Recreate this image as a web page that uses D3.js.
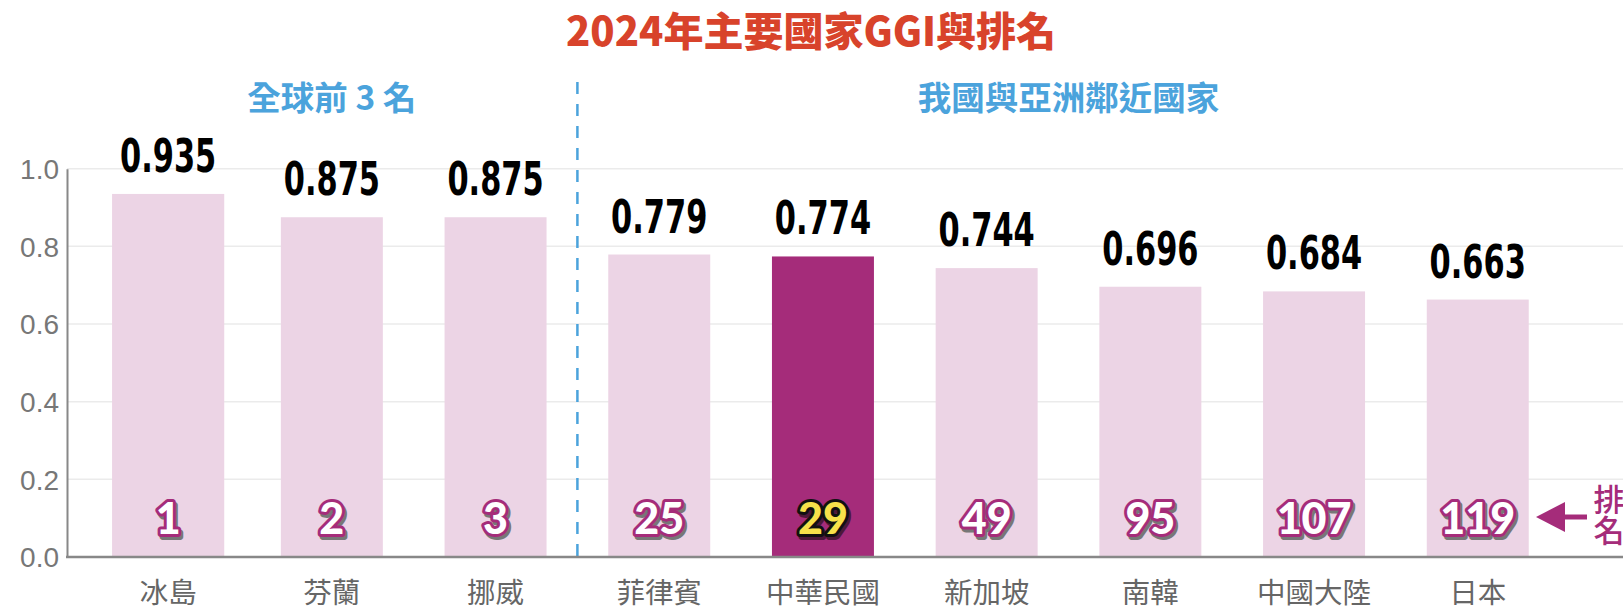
<!DOCTYPE html>
<html>
<head>
<meta charset="utf-8">
<script src="https://cdn.jsdelivr.net/npm/d3@7/dist/d3.min.js"></script>
<style>
  html, body { margin: 0; padding: 0; background: #fff; }
  svg { display: block; }
</style>
</head>
<body>
<svg id="chart" width="1623" height="612"></svg>
<script>
const titleText = "2024年主要國家GGI與排名";
const categories = ["冰島", "芬蘭", "挪威", "菲律賓", "中華民國", "新加坡", "南韓", "中國大陸", "日本"];
const values = [0.935, 0.875, 0.875, 0.779, 0.774, 0.744, 0.696, 0.684, 0.663];
const ranks = [1, 2, 3, 25, 29, 49, 95, 107, 119];
const highlightCategory = "中華民國";
const yTicks = [0, 0.2, 0.4, 0.6, 0.8, 1.0];
const groupLabels = ["全球前 3 名", "我國與亞洲鄰近國家"];
const groupStart = [0, 3];
const groupEnd = [2, 8];
const rankCaption = "排名";

const W = 1623, H = 612;
const cjk = '"Noto Sans CJK TC", "Noto Sans CJK SC", sans-serif';
const svg = d3.select("#chart");

const x = d3.scaleBand().domain(categories).range([86.3, 1559.6]).paddingInner(0.377).paddingOuter(0.1885);
const y = d3.scaleLinear().domain([0, 1]).range([557, 168.7]);
const axisX0 = 67;

const pinkLight = "#ecd4e5", magenta = "#a52c7a", blue = "#4ba3dc", red = "#d8432b";

// gridlines
svg.append("g").selectAll("line").data(yTicks.filter(d => d > 0)).join("line")
  .attr("x1", axisX0).attr("x2", W)
  .attr("y1", d => y(d)).attr("y2", d => y(d))
  .attr("stroke", "#ebebeb").attr("stroke-width", 1.5);

// title
svg.append("text").attr("x", 811).attr("y", 46).attr("text-anchor", "middle")
  .attr("font-family", cjk).attr("font-weight", 900).attr("font-size", 40)
  .attr("fill", red).text(titleText);

// group labels
groupLabels.forEach((g, i) => {
  const cx = (x(categories[groupStart[i]]) + x(categories[groupEnd[i]]) + x.bandwidth()) / 2;
  svg.append("text").attr("x", cx).attr("y", 110).attr("text-anchor", "middle")
    .attr("font-family", cjk).attr("font-weight", 700).attr("font-size", 33.5)
    .attr("fill", blue).text(g);
});

// divider
const divX = (x(categories[groupEnd[0]]) + x.bandwidth() + x(categories[groupStart[1]])) / 2;
svg.append("line").attr("x1", divX).attr("x2", divX).attr("y1", 82).attr("y2", y(0))
  .attr("stroke", blue).attr("stroke-width", 2.5).attr("stroke-dasharray", "12,10");

// bars
svg.append("g").selectAll("rect").data(categories).join("rect")
  .attr("x", (d, i) => x(d) - (i === 0 ? x.bandwidth() * 0.05 : 0))
  .attr("width", (d, i) => x.bandwidth() * (i === 0 ? 1.1 : 1))
  .attr("y", (d, i) => y(values[i]))
  .attr("height", (d, i) => y(0) - y(values[i]))
  .attr("fill", d => d === highlightCategory ? magenta : pinkLight);

// y axis
const yAxis = d3.axisLeft(y).tickValues(yTicks).tickSize(0).tickPadding(8).tickFormat(d3.format(".1f"));
const gy = svg.append("g").attr("transform", `translate(${axisX0},0)`).call(yAxis);
gy.select(".domain").attr("stroke", "#888").attr("stroke-width", 2);
gy.selectAll("text").attr("font-family", '"Liberation Sans", Arial, sans-serif')
  .attr("font-size", 28).attr("fill", "#777").attr("dy", "0.35em");

// x baseline
svg.append("line").attr("x1", axisX0 - 1).attr("x2", W).attr("y1", y(0)).attr("y2", y(0))
  .attr("stroke", "#888").attr("stroke-width", 2.5);

// x labels
svg.append("g").selectAll("text").data(categories).join("text")
  .attr("x", d => x(d) + x.bandwidth() / 2).attr("y", 603)
  .attr("text-anchor", "middle").attr("font-family", cjk).attr("font-size", 28.5)
  .attr("fill", "#666").text(d => d);

// value labels (condensed)
svg.append("g").selectAll("text").data(categories).join("text")
  .attr("transform", (d, i) => `translate(${x(d) + x.bandwidth() / 2},${y(values[i]) - 22}) scale(0.72,1)`)
  .attr("text-anchor", "middle")
  .attr("font-family", '"DejaVu Sans Condensed", "DejaVu Sans", sans-serif')
  .attr("font-weight", 700).attr("font-size", 47).attr("fill", "#000")
  .text((d, i) => d3.format(".3f")(values[i]));

// rank labels (shadow + stroked)
const rankFont = 'Lato, "Open Sans", Roboto, sans-serif';
const rg = svg.append("g");
rg.selectAll("text.shadow").data(categories).join("text").attr("class", "shadow")
  .attr("x", d => x(d) + x.bandwidth() / 2 + 2).attr("y", 537)
  .attr("text-anchor", "middle").attr("font-family", rankFont).attr("font-weight", 900)
  .attr("font-size", 43)
  .attr("fill", d => d === highlightCategory ? "#4d1839" : "#777")
  .attr("stroke", d => d === highlightCategory ? "#4d1839" : "#777")
  .attr("stroke-width", 6)
  .attr("stroke-linejoin", "round").text((d, i) => ranks[i]);
rg.selectAll("text.main").data(categories).join("text").attr("class", "main")
  .attr("x", d => x(d) + x.bandwidth() / 2).attr("y", 534)
  .attr("text-anchor", "middle").attr("font-family", rankFont).attr("font-weight", 900)
  .attr("font-size", 43)
  .attr("fill", d => d === highlightCategory ? "#f7e14a" : "#fff")
  .attr("stroke", d => d === highlightCategory ? "#111" : magenta)
  .attr("stroke-width", 6).attr("stroke-linejoin", "round")
  .attr("paint-order", "stroke").text((d, i) => ranks[i]);

// arrow + caption
const ay = 517;
svg.append("line").attr("x1", 1587).attr("x2", 1560).attr("y1", ay).attr("y2", ay)
  .attr("stroke", magenta).attr("stroke-width", 5);
svg.append("path").attr("d", `M1536,${ay} L1565,${ay - 15} L1565,${ay + 15} Z`).attr("fill", magenta);
svg.append("text").attr("x", 1609).attr("y", 484)
  .style("writing-mode", "vertical-rl")
  .attr("font-family", cjk).attr("font-weight", 500).attr("font-size", 31)
  .attr("fill", magenta).text(rankCaption);
</script>
</body>
</html>
